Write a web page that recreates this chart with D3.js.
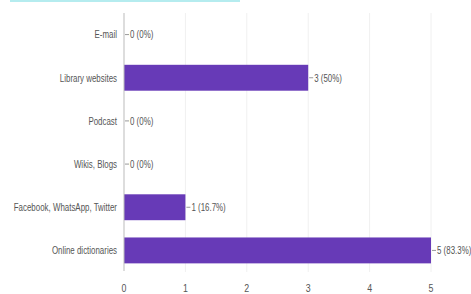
<!DOCTYPE html>
<html lang="en">
<head>
<meta charset="UTF-8">
<title>Sources</title>
<style>
    body { margin: 0; background: #fff; }
    .lbl { font-family: "Liberation Sans", Arial, sans-serif; font-size: 11px; fill: #555; }
    .grid line { stroke: #f0f0f0; }
</style>
</head>
<body>
<div class="chart"></div>
<script src="https://d3js.org/d3.v7.min.js"></script>
<script>
var categories = ["E-mail", "Library websites", "Podcast", "Wikis, Blogs", "Facebook, WhatsApp, Twitter", "Online dictionaries"];
var counts = [0, 3, 0, 0, 1, 5];
var percents = ["0%", "50%", "0%", "0%", "16.7%", "83.3%"];
var xTicks = [0, 1, 2, 3, 4, 5];

var width = 471, height = 294;
var margin = {top: 13, right: 40, bottom: 22, left: 124};

var svg = d3.select(".chart").append("svg")
    .attr("width", width)
    .attr("height", height);

// cut-off underline at the very top of the screenshot
svg.append("rect")
    .attr("x", 10).attr("y", 0)
    .attr("width", 230).attr("height", 2)
    .attr("fill", "#b5ecef");

var x = d3.scaleLinear()
    .domain([0, 5])
    .range([margin.left, 431]);

var y = d3.scaleBand()
    .domain(categories)
    .range([margin.top, height - margin.bottom])
    .paddingInner(0.4)
    .paddingOuter(0.2);

// grid
svg.append("g")
    .attr("class", "grid")
    .selectAll("line")
    .data(xTicks.slice(1))
    .enter().append("line")
        .attr("x1", function(d) { return x(d); })
        .attr("x2", function(d) { return x(d); })
        .attr("y1", margin.top)
        .attr("y2", height - margin.bottom);

// bars
svg.selectAll(".bar")
    .data(counts)
    .enter().append("rect")
        .attr("class", "bar")
        .attr("x", x(0))
        .attr("y", function(d, i) { return y(categories[i]); })
        .attr("width", function(d) { return x(d) - x(0); })
        .attr("height", y.bandwidth())
        .attr("fill", "#673ab7");

// zero axis line
svg.append("line")
    .attr("x1", x(0)).attr("x2", x(0))
    .attr("y1", margin.top).attr("y2", height - margin.bottom - 1)
    .attr("stroke", "#bbb");

// category labels
svg.selectAll(".cat")
    .data(categories)
    .enter().append("text")
        .attr("class", "lbl")
        .attr("text-anchor", "end")
        .attr("dy", "0.35em")
        .attr("transform", function(d) {
            return "translate(" + (x(0) - 7) + "," + (y(d) + y.bandwidth() / 2) + ") scale(0.72,1)";
        })
        .text(function(d) { return d; });

// value labels with small leader
var vals = svg.selectAll(".val")
    .data(counts)
    .enter().append("g")
        .attr("transform", function(d, i) {
            return "translate(" + x(d) + "," + (y(categories[i]) + y.bandwidth() / 2) + ")";
        });

vals.append("line")
    .attr("x1", 1).attr("x2", 5)
    .attr("stroke", "#999");

vals.append("text")
    .attr("class", "lbl")
    .attr("dy", "0.35em")
    .attr("transform", "translate(6,0) scale(0.72,1)")
    .text(function(d, i) { return d + " (" + percents[i] + ")"; });

// x tick labels
svg.selectAll(".tick-lbl")
    .data(xTicks)
    .enter().append("text")
        .attr("class", "lbl")
        .attr("text-anchor", "middle")
        .attr("transform", function(d) { return "translate(" + x(d) + ",292) scale(0.8,1)"; })
        .text(function(d) { return d; });
</script>
</body>
</html>
